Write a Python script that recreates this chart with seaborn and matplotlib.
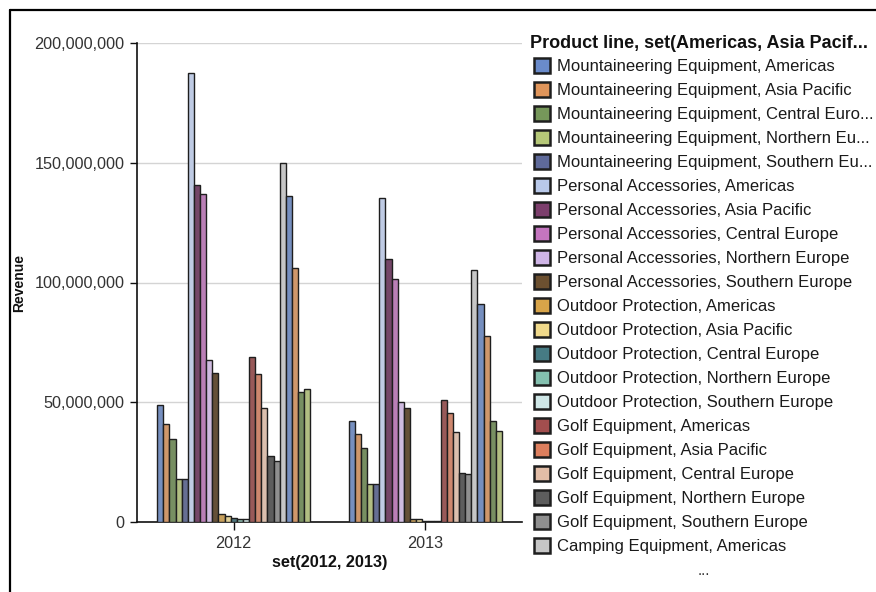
import matplotlib
matplotlib.use("Agg")
import matplotlib.pyplot as plt
import matplotlib.ticker as mticker
from matplotlib.patches import Patch
from matplotlib.lines import Line2D
import seaborn as sns
import pandas as pd

# ---- data ----
years = ["2012", "2013"]
series = [
    "Mountaineering Equipment, Americas",
    "Mountaineering Equipment, Asia Pacific",
    "Mountaineering Equipment, Central Europe",
    "Mountaineering Equipment, Northern Europe",
    "Mountaineering Equipment, Southern Europe",
    "Personal Accessories, Americas",
    "Personal Accessories, Asia Pacific",
    "Personal Accessories, Central Europe",
    "Personal Accessories, Northern Europe",
    "Personal Accessories, Southern Europe",
    "Outdoor Protection, Americas",
    "Outdoor Protection, Asia Pacific",
    "Outdoor Protection, Central Europe",
    "Outdoor Protection, Northern Europe",
    "Outdoor Protection, Southern Europe",
    "Golf Equipment, Americas",
    "Golf Equipment, Asia Pacific",
    "Golf Equipment, Central Europe",
    "Golf Equipment, Northern Europe",
    "Golf Equipment, Southern Europe",
    "Camping Equipment, Americas",
    "Camping Equipment, Asia Pacific",
    "Camping Equipment, Central Europe",
    "Camping Equipment, Northern Europe",
    "Camping Equipment, Southern Europe",
]
legend_title = "Product line, set(Americas, Asia Pacif..."
legend_labels = [
    "Mountaineering Equipment, Americas",
    "Mountaineering Equipment, Asia Pacific",
    "Mountaineering Equipment, Central Euro...",
    "Mountaineering Equipment, Northern Eu...",
    "Mountaineering Equipment, Southern Eu...",
    "Personal Accessories, Americas",
    "Personal Accessories, Asia Pacific",
    "Personal Accessories, Central Europe",
    "Personal Accessories, Northern Europe",
    "Personal Accessories, Southern Europe",
    "Outdoor Protection, Americas",
    "Outdoor Protection, Asia Pacific",
    "Outdoor Protection, Central Europe",
    "Outdoor Protection, Northern Europe",
    "Outdoor Protection, Southern Europe",
    "Golf Equipment, Americas",
    "Golf Equipment, Asia Pacific",
    "Golf Equipment, Central Europe",
    "Golf Equipment, Northern Europe",
    "Golf Equipment, Southern Europe",
    "Camping Equipment, Americas",
]
rev_2012 = [48.9, 40.8, 34.8, 17.8, 17.8, 187.6, 140.7, 136.8, 67.6, 62.4,
            3.3, 2.5, 1.8, 1.25, 1.25, 68.9, 61.7, 47.6, 27.6, 25.5,
            150.0, 136.1, 105.9, 54.2, 55.5]
rev_2013 = [42.3, 36.7, 30.8, 15.9, 15.9, 135.2, 109.8, 101.3, 50.2, 47.5,
            1.25, 1.25, 0.6, 0.5, 0.5, 50.9, 45.4, 37.4, 20.6, 20.0,
            105.2, 91.0, 77.8, 42.3, 38.1]

base_colors = ["#6A8BCB", "#E0955A", "#76975A", "#B6C878", "#5F6A9A",
               "#B9C9EA", "#7C3E6C", "#C475BF", "#CFB5E6", "#6C5030",
               "#D8A449", "#F0D98B", "#467B84", "#84C0AF", "#CFE7E7",
               "#A24E4E", "#DD7F5E", "#E2BDA7", "#5D5D5D", "#8F8F8F",
               "#C6C6C6"]
palette = [base_colors[i % len(base_colors)] for i in range(len(series))]

rows = []
for s, a, b in zip(series, rev_2012, rev_2013):
    rows.append({"Year": years[0], "Series": s, "Revenue": a * 1e6})
    rows.append({"Year": years[1], "Series": s, "Revenue": b * 1e6})
df = pd.DataFrame(rows)

# ---- style ----
sns.set_theme(style="white")
plt.rcParams["font.family"] = ["Liberation Sans", "DejaVu Sans"]

fig = plt.figure(figsize=(8.76, 5.92), dpi=100)
ax = fig.add_axes([137 / 876, 1 - 522 / 592, (522 - 137) / 876, (522 - 43) / 592])

sns.barplot(data=df, x="Year", y="Revenue", hue="Series", hue_order=series,
            order=years, palette=palette, edgecolor="#1e1e1e", linewidth=1.0,
            width=0.8, legend=False, ax=ax, zorder=3)

ax.set_ylim(0, 200e6)
ax.set_xlim(-0.505, 1.505)
ax.yaxis.set_major_locator(mticker.MultipleLocator(50e6))
ax.yaxis.set_major_formatter(mticker.FuncFormatter(lambda v, p: f"{int(v):,}"))
ax.grid(axis="y", color="#d4d4d4", linewidth=1.0, zorder=0)
ax.set_axisbelow(True)
for side in ["top", "right"]:
    ax.spines[side].set_visible(False)
for side in ["left", "bottom"]:
    ax.spines[side].set_color("#111111")
    ax.spines[side].set_linewidth(1.2)
ax.tick_params(axis="y", direction="out", length=5, width=1.0, color="#111111",
               pad=4, labelsize=11.7, labelcolor="#333333", left=True)
ax.tick_params(axis="x", direction="out", length=6, width=1.0, color="#111111",
               pad=4, labelsize=11.7, labelcolor="#333333", bottom=True)
ax.set_ylabel("Revenue", fontsize=10, fontweight="bold", color="#111111", labelpad=6)
ax.set_xlabel("set(2012, 2013)", fontsize=11.7, fontweight="bold", color="#111111", labelpad=3)

# ---- legend ----
handles = [Patch(facecolor=base_colors[i], edgecolor="#1e1e1e", linewidth=1.8)
           for i in range(len(legend_labels))]
leg = fig.legend(handles, legend_labels, loc="upper left",
                 bbox_to_anchor=(534 / 876, 1 - 58 / 592), frameon=False,
                 fontsize=12.0, handlelength=0.97, handleheight=0.97,
                 handletextpad=0.42, labelspacing=0.48, borderaxespad=0, borderpad=0)
for t in leg.get_texts():
    t.set_color("#1a1a1a")
fig.text(530 / 876, 1 - 44 / 592, legend_title, ha="left", va="center",
         fontsize=13, fontweight="bold", color="#111111")
fig.text(704 / 876, 1 - 571 / 592, "...", ha="center", va="center", fontsize=11,
         color="#333333")

# ---- outer frame ----
fig.add_artist(Line2D([9.5 / 876, 1.0], [1 - 10 / 592, 1 - 10 / 592],
                      transform=fig.transFigure, color="black", linewidth=1.6))
fig.add_artist(Line2D([9.5 / 876, 9.5 / 876], [0.0, 1 - 10 / 592],
                      transform=fig.transFigure, color="black", linewidth=1.6))

fig.savefig("out.png", dpi=100)
